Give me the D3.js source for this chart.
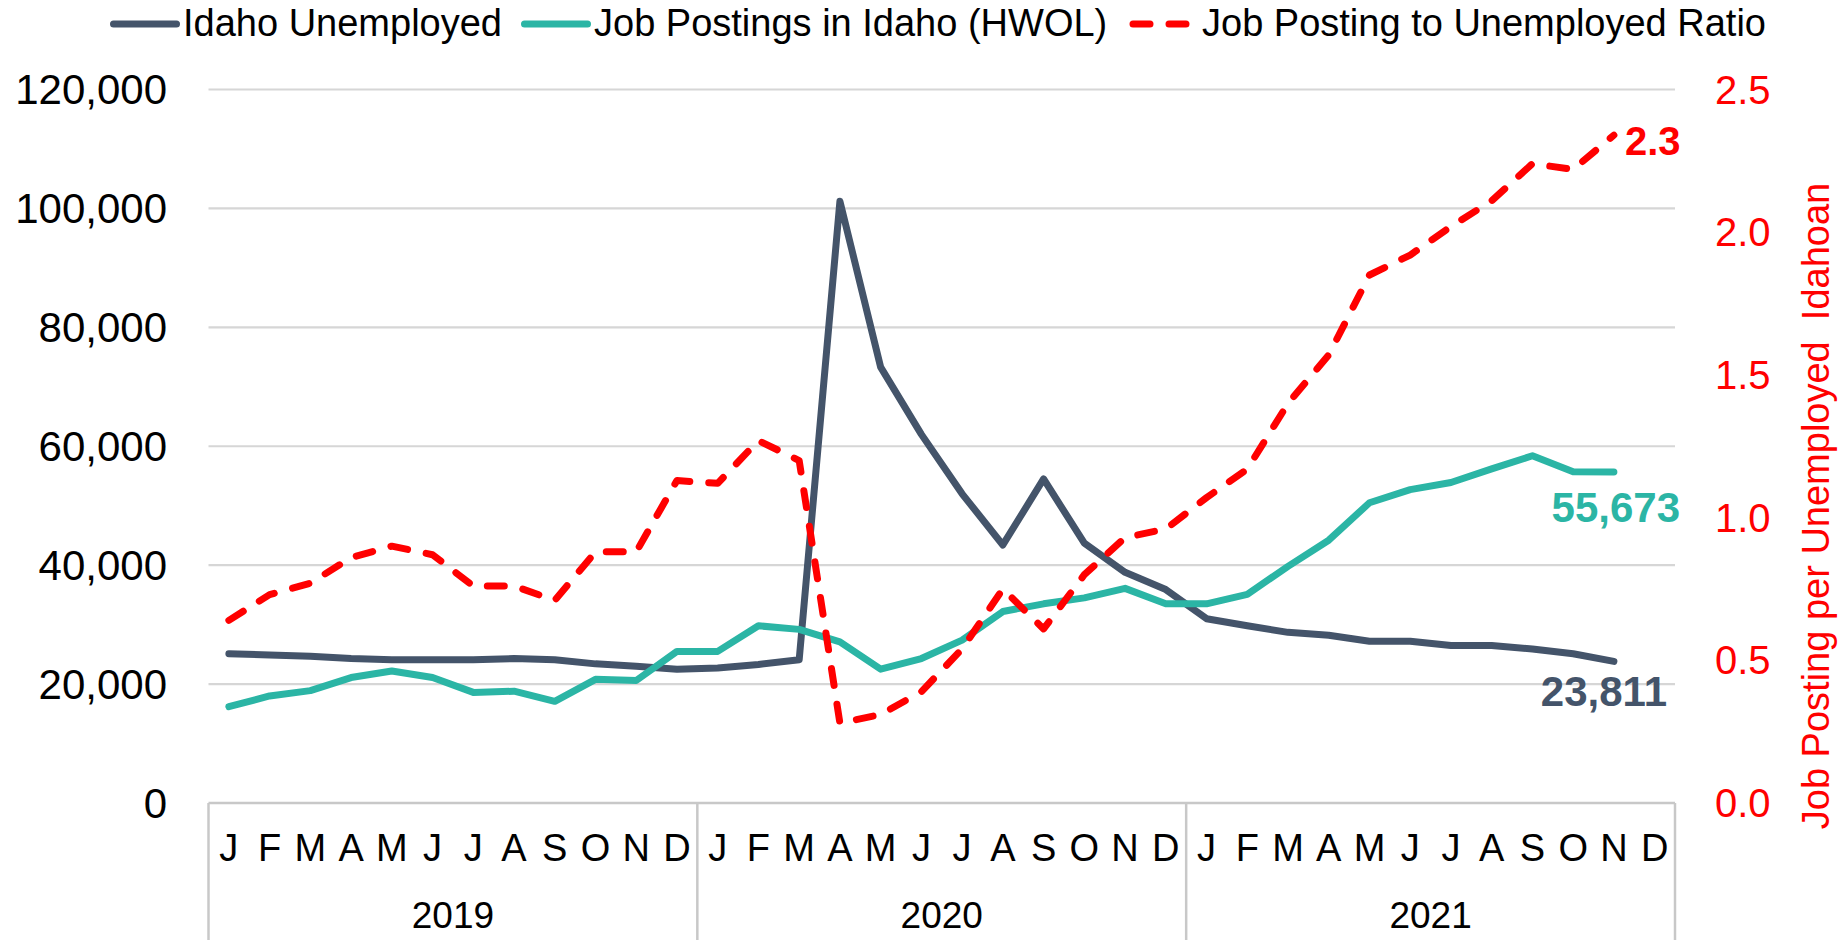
<!DOCTYPE html>
<html>
<head>
<meta charset="utf-8">
<script src="https://cdn.jsdelivr.net/npm/d3@7"></script>
<style>
  html, body { margin: 0; padding: 0; background: #fff; }
  svg { display: block; font-family: "Liberation Sans", Arial, sans-serif; }
</style>
</head>
<body>
<svg id="chart" width="1845" height="940"></svg>
<script>
// ---------- DATA ----------
const years = ["2019", "2020", "2021"];
const monthLetters = ["J","F","M","A","M","J","J","A","S","O","N","D"];

// Idaho Unemployed (Jan 2019 .. Nov 2021)
const unemployed = [
  25100, 24900, 24700, 24300, 24100, 24100, 24100, 24300, 24100, 23400, 23000, 22500,
  22700, 23300, 24100, 101200, 73300, 62000, 52000, 43400, 54500, 43700, 38800, 35900,
  31000, 29800, 28700, 28200, 27200, 27200, 26500, 26500, 25900, 25100, 23811
];
// Job Postings in Idaho (HWOL)
const postings = [
  16200, 18000, 18900, 21100, 22200, 21100, 18600, 18800, 17100, 20800, 20600, 25500,
  25500, 29800, 29200, 27100, 22500, 24300, 27400, 32200, 33500, 34500, 36100, 33500,
  33500, 35100, 39800, 44200, 50500, 52700, 53900, 56200, 58400, 55700, 55673
];
// Job Posting to Unemployed Ratio
const ratio = [
  0.64, 0.73, 0.77, 0.86, 0.90, 0.87, 0.76, 0.76, 0.71, 0.88, 0.88, 1.13,
  1.12, 1.27, 1.20, 0.28, 0.31, 0.39, 0.54, 0.75, 0.61, 0.80, 0.93, 0.96,
  1.07, 1.17, 1.40, 1.57, 1.85, 1.92, 2.02, 2.11, 2.24, 2.22, 2.34
];
const leftTicks = [0, 20000, 40000, 60000, 80000, 100000, 120000];
const rightTicks = [0, 0.5, 1.0, 1.5, 2.0, 2.5];
const seriesNames = ["Idaho Unemployed", "Job Postings in Idaho (HWOL)", "Job Posting to Unemployed Ratio"];
const endLabels = ["23,811", "55,673", "2.3"];
const rightTitle = "Job Posting per Unemployed  Idahoan";

// ---------- STYLE / LAYOUT ----------
const C_DARK = "#44546A", C_TEAL = "#2BB5A5", C_RED = "#FF0000";
const GRID = "#D6D6D6", BOX = "#C8C8C8";
const X0 = 208.5, X1 = 1675, Y0 = 803, Y1 = 89.5;

const svg = d3.select("#chart");

const monthKeys = [];
years.forEach(y => monthLetters.forEach((m, i) => monthKeys.push(y + "-" + i)));

const x = d3.scaleBand().domain(monthKeys).range([X0, X1]).paddingInner(0).paddingOuter(0);
const xc = i => x(monthKeys[i]) + x.bandwidth() / 2;
const yL = d3.scaleLinear().domain([0, 120000]).range([Y0, Y1]);
const yR = d3.scaleLinear().domain([0, 2.5]).range([Y0, Y1]);

// gridlines
svg.append("g").selectAll("line")
  .data(leftTicks.filter(d => d > 0))
  .join("line")
  .attr("x1", X0).attr("x2", X1)
  .attr("y1", d => yL(d)).attr("y2", d => yL(d))
  .attr("stroke", GRID).attr("stroke-width", 2.2);

// bottom axis box
svg.append("line").attr("x1", X0).attr("x2", X1).attr("y1", Y0).attr("y2", Y0)
  .attr("stroke", BOX).attr("stroke-width", 2.5);
const yearEdges = years.map((y, i) => x(y + "-0")).concat([X1]);
svg.append("g").selectAll("line").data(yearEdges).join("line")
  .attr("x1", d => d).attr("x2", d => d).attr("y1", Y0).attr("y2", 940)
  .attr("stroke", BOX).attr("stroke-width", 2.5);

// month labels
svg.append("g").selectAll("text").data(monthKeys).join("text")
  .attr("x", (d, i) => xc(i)).attr("y", 861)
  .attr("text-anchor", "middle").attr("font-size", 38).attr("fill", "#000")
  .text(d => monthLetters[+d.split("-")[1]]);

// year labels
svg.append("g").selectAll("text").data(years).join("text")
  .attr("x", (d, i) => (yearEdges[i] + yearEdges[i + 1]) / 2).attr("y", 928)
  .attr("text-anchor", "middle").attr("font-size", 37).attr("fill", "#000")
  .text(d => d);

// left axis labels
const fmt = d3.format(",");
svg.append("g").selectAll("text").data(leftTicks).join("text")
  .attr("x", 167).attr("y", d => yL(d)).attr("dy", "0.35em")
  .attr("text-anchor", "end").attr("font-size", 42).attr("fill", "#000")
  .text(d => fmt(d));

// right axis labels
svg.append("g").selectAll("text").data(rightTicks).join("text")
  .attr("x", 1715).attr("y", d => yR(d)).attr("dy", "0.35em")
  .attr("text-anchor", "start").attr("font-size", 40).attr("fill", C_RED)
  .text(d => d.toFixed(1));

// right axis title
svg.append("text")
  .attr("transform", `translate(1829, 506) rotate(-90)`)
  .attr("text-anchor", "middle").attr("font-size", 38).attr("fill", C_RED)
  .attr("xml:space", "preserve").style("white-space", "pre")
  .text(rightTitle);

// lines
const lineL = d3.line().x((d, i) => xc(i)).y(d => yL(d));
const lineR = d3.line().x((d, i) => xc(i)).y(d => yR(d));

svg.append("path").datum(unemployed).attr("d", lineL)
  .attr("fill", "none").attr("stroke", C_DARK).attr("stroke-width", 7)
  .attr("stroke-linejoin", "round").attr("stroke-linecap", "round");
svg.append("path").datum(postings).attr("d", lineL)
  .attr("fill", "none").attr("stroke", C_TEAL).attr("stroke-width", 7)
  .attr("stroke-linejoin", "round").attr("stroke-linecap", "round");
svg.append("path").datum(ratio).attr("d", lineR)
  .attr("fill", "none").attr("stroke", C_RED).attr("stroke-width", 7)
  .attr("stroke-linejoin", "round").attr("stroke-linecap", "round")
  .attr("stroke-dasharray", "17,19");

// end labels
const last = unemployed.length - 1;
svg.append("text").attr("x", 1667).attr("y", yL(unemployed[last]) + 45)
  .attr("text-anchor", "end").attr("font-size", 42).attr("font-weight", "bold")
  .attr("fill", C_DARK).text(endLabels[0]);
svg.append("text").attr("x", 1680).attr("y", yL(postings[last]) + 50)
  .attr("text-anchor", "end").attr("font-size", 42).attr("font-weight", "bold")
  .attr("fill", C_TEAL).text(endLabels[1]);
svg.append("text").attr("x", 1625).attr("y", yR(ratio[last]) + 20)
  .attr("text-anchor", "start").attr("font-size", 40).attr("font-weight", "bold")
  .attr("fill", C_RED).text(endLabels[2]);

// legend
const legendX = [110, 521, 1129];
const legendColors = [C_DARK, C_TEAL, C_RED];
const lg = svg.append("g");
seriesNames.forEach((name, i) => {
  const sx = legendX[i];
  const ln = lg.append("line")
    .attr("x1", sx + 3.5).attr("x2", sx + 66.5).attr("y1", 24).attr("y2", 24)
    .attr("stroke", legendColors[i]).attr("stroke-width", 7).attr("stroke-linecap", "round");
  if (i === 2) ln.attr("stroke-dasharray", "17,19").attr("x1", sx + 4).attr("x2", sx + 62);
  lg.append("text").attr("x", sx + 73).attr("y", 36)
    .attr("font-size", 38).attr("fill", "#000").text(name);
});
</script>
</body>
</html>
